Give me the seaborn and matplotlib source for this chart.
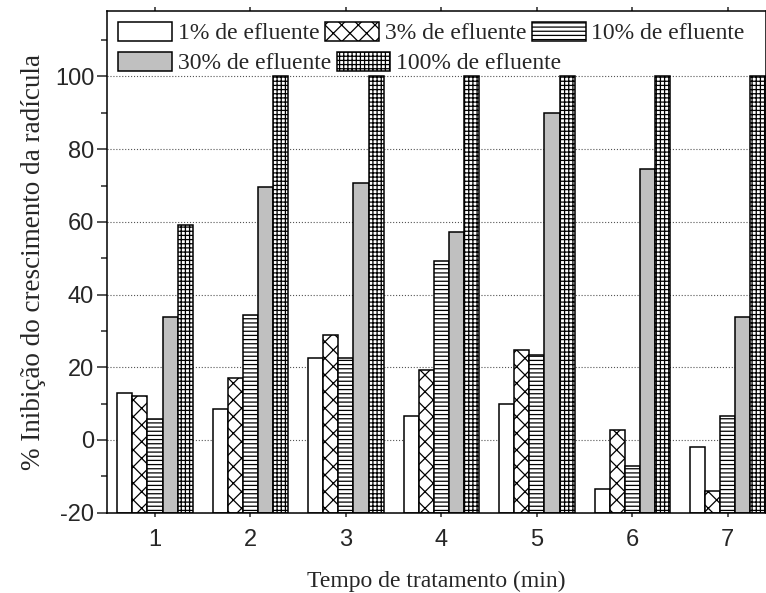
import numpy as np
import pandas as pd
import matplotlib
matplotlib.use("Agg")
import matplotlib.pyplot as plt
from matplotlib.ticker import MultipleLocator
import seaborn as sns

# dados
tempos = ["1", "2", "3", "4", "5", "6", "7"]
series = ["1% de efluente", "3% de efluente", "10% de efluente",
          "30% de efluente", "100% de efluente"]
ef_1   = [12.8, 8.4, 22.5, 6.7, 9.9, -13.5, -1.8]
ef_3   = [12.2, 17.0, 28.8, 19.2, 24.8, 2.7, -14.0]
ef_10  = [5.7, 34.5, 22.5, 49.3, 23.4, -7.2, 6.7]
ef_30  = [33.9, 69.5, 70.8, 57.2, 89.9, 74.5, 33.9]
ef_100 = [59.2, 100, 100, 100, 100, 100, 100]

BASE    = -20
CORES   = ["white", "white", "white", "#c0c0c0", "white"]
HATCHES = ["", "xx", "----", "", "++++"]

sns.set_style("ticks")
plt.rcParams.update({"font.family": ["Liberation Serif", "DejaVu Serif"],
                     "hatch.linewidth": 0.9, "hatch.color": "black",
                     "axes.linewidth": 1.1, "axes.unicode_minus": False})

rows = []
for s, vals in zip(series, [ef_1, ef_3, ef_10, ef_30, ef_100]):
    for t, v in zip(tempos, vals):
        rows.append({"tempo": t, "serie": s, "inibicao": v})
df = pd.DataFrame(rows)
df["altura"] = df["inibicao"] - BASE   # barras partem do fundo do eixo (-20)

fig = plt.figure(figsize=(7.66, 5.93), dpi=100)
ax = fig.add_axes([106.7/766, 1-512.7/593, (766-106.7)/766, (512.7-11)/593])

sns.barplot(data=df, x="tempo", y="altura", hue="serie", order=tempos,
            hue_order=series, palette=CORES, width=0.79, saturation=1,
            edgecolor="black", linewidth=1.1, bottom=BASE, legend=False, ax=ax)

for cont, h in zip(ax.containers, HATCHES):
    for p in cont.patches:
        p.set_hatch(h)

ax.set_ylim(BASE, 118)
ax.set_xlim(-0.506, 6.40)
ax.yaxis.set_major_locator(MultipleLocator(20))
ax.yaxis.set_minor_locator(MultipleLocator(10))
ax.set_axisbelow(True)
ax.yaxis.grid(True, which="major", linestyle=":", color="#555555", linewidth=0.8)
for sp in ax.spines.values():
    sp.set_visible(True)
    sp.set_color("black")

ax.tick_params(axis="y", which="major", direction="out", length=7, width=1.1,
               pad=2, labelsize=17, labelfontfamily="Liberation Sans")
ax.tick_params(axis="y", which="minor", direction="out", length=4, width=1.1)
ax.tick_params(axis="x", which="major", direction="out", length=3, width=1.1,
               pad=9, labelsize=17, labelfontfamily="Liberation Sans", top=True)

ax.set_xlabel("Tempo de tratamento (min)", fontsize=17, labelpad=14)
ax.set_ylabel("% Inibição do crescimento da radícula", fontsize=19.5, labelpad=6)

# legenda em duas linhas, como no original
leg_kw = dict(frameon=False, borderpad=0, borderaxespad=0, handlelength=2.27,
              handleheight=0.87, handletextpad=0.25, columnspacing=0.25,
              fontsize=17, loc="center left", bbox_transform=fig.transFigure)
c = ax.containers
leg1 = ax.legend([c[0], c[1], c[2]], series[:3], ncol=3,
                 bbox_to_anchor=(118/766, 1-33/593), **leg_kw)
ax.add_artist(leg1)
ax.legend([c[3], c[4]], series[3:], ncol=2,
          bbox_to_anchor=(118/766, 1-63/593), **leg_kw)

fig.savefig("out.png", dpi=100)
